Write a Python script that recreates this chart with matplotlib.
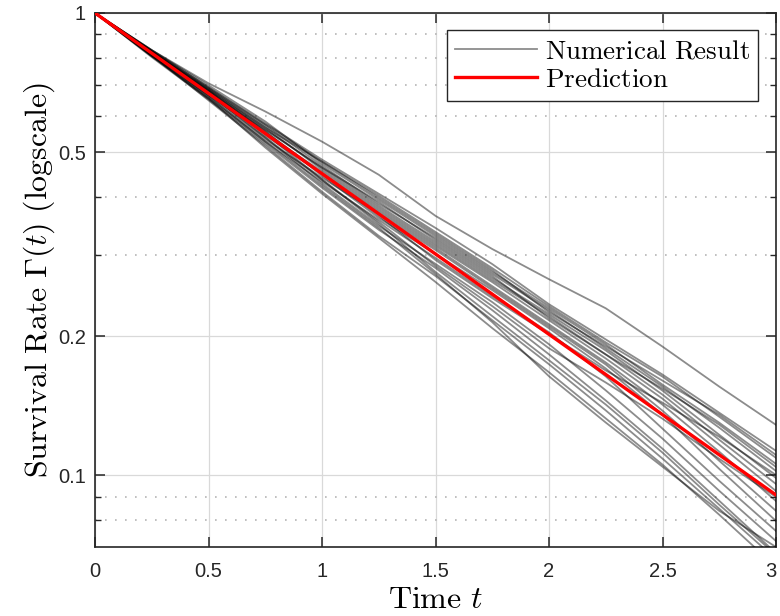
import numpy as np
import matplotlib
matplotlib.use("Agg")
import matplotlib.pyplot as plt
import matplotlib.transforms as mtransforms
from matplotlib.ticker import FixedLocator, NullFormatter, NullLocator

plt.rcParams['mathtext.fontset'] = 'cm'

# time grid at which the numerical curves were read
t_grid = [0, 0.25, 0.5, 0.75, 1.0, 1.25, 1.5, 1.75, 2.0, 2.25, 2.5, 2.75, 3.0]

# Numerical results (survival rate)
run_outlier = [1, 0.8311, 0.7046, 0.6124, 0.5270, 0.4469, 0.3641, 0.3087, 0.2656, 0.2298, 0.1899, 0.1556, 0.1286]
run_01 = [1, 0.8269, 0.6907, 0.5768, 0.4818, 0.4065, 0.3429, 0.2864, 0.2345, 0.1968, 0.1652, 0.1366, 0.1130]
run_02 = [1, 0.8106, 0.6770, 0.5655, 0.4770, 0.4024, 0.3361, 0.2807, 0.2321, 0.1939, 0.1635, 0.1339, 0.1091]
run_03 = [1, 0.8311, 0.6976, 0.5827, 0.4723, 0.3945, 0.3295, 0.2752, 0.2298, 0.1920, 0.1571, 0.1300, 0.1059]
run_04 = [1, 0.8228, 0.6838, 0.5711, 0.4676, 0.3867, 0.3262, 0.2725, 0.2276, 0.1882, 0.1556, 0.1268, 0.1022]
run_05 = [1, 0.8146, 0.6703, 0.5598, 0.4630, 0.3829, 0.3198, 0.2671, 0.2231, 0.1863, 0.1525, 0.1224, 0.0987]
run_06 = [1, 0.8269, 0.6872, 0.5655, 0.4583, 0.3791, 0.3166, 0.2644, 0.2209, 0.1826, 0.1495, 0.1194, 0.0958]
run_07 = [1, 0.8066, 0.6637, 0.5488, 0.4538, 0.3753, 0.3135, 0.2618, 0.2165, 0.1790, 0.1465, 0.1165, 0.0925]
run_08 = [1, 0.8228, 0.6770, 0.5434, 0.4493, 0.3716, 0.3104, 0.2566, 0.2122, 0.1755, 0.1422, 0.1125, 0.0880]
run_09 = [1, 0.8106, 0.6571, 0.5326, 0.4404, 0.3679, 0.3073, 0.2541, 0.2101, 0.1737, 0.1380, 0.1075, 0.0838]
run_10 = [1, 0.8187, 0.6804, 0.5543, 0.4449, 0.3607, 0.3012, 0.2516, 0.2080, 0.1703, 0.1353, 0.1033, 0.0797]
run_11 = [1, 0.8066, 0.6538, 0.5273, 0.4317, 0.3570, 0.2953, 0.2442, 0.2039, 0.1637, 0.1262, 0.0973, 0.0758]
run_12 = [1, 0.8146, 0.6637, 0.5380, 0.4275, 0.3466, 0.2866, 0.2370, 0.1921, 0.1527, 0.1201, 0.0926, 0.0721]
run_13 = [1, 0.8026, 0.6505, 0.5221, 0.4190, 0.3398, 0.2809, 0.2277, 0.1827, 0.1452, 0.1142, 0.0881, 0.0679]
run_14 = [1, 0.8106, 0.6473, 0.5170, 0.4108, 0.3297, 0.2699, 0.2166, 0.1739, 0.1382, 0.1087, 0.0847, 0.0659]
run_15 = [1, 0.8066, 0.6538, 0.5118, 0.4067, 0.3264, 0.2620, 0.2082, 0.1671, 0.1328, 0.1055, 0.0822, 0.0634]
run_16 = [1, 0.8269, 0.6703, 0.5380, 0.4360, 0.3500, 0.2754, 0.2210, 0.1774, 0.1423, 0.1120, 0.0864, 0.0673]
run_17 = [1, 0.8187, 0.6604, 0.5273, 0.4232, 0.3431, 0.2726, 0.2145, 0.1638, 0.1301, 0.1044, 0.0838, 0.0700]
run_18 = [1, 0.8311, 0.6907, 0.5740, 0.4770, 0.3984, 0.3328, 0.2779, 0.2253, 0.1901, 0.1603, 0.1353, 0.1107]
run_19 = [1, 0.8228, 0.6838, 0.5598, 0.4630, 0.3906, 0.3230, 0.2698, 0.2187, 0.1826, 0.1540, 0.1287, 0.1043]
run_20 = [1, 0.8146, 0.6737, 0.5543, 0.4493, 0.3643, 0.2923, 0.2417, 0.2019, 0.1686, 0.1436, 0.1212, 0.1002]
run_21 = [1, 0.8269, 0.6804, 0.5488, 0.4360, 0.3535, 0.2837, 0.2323, 0.1883, 0.1588, 0.1326, 0.1086, 0.0898]

runs = [run_outlier, run_01, run_02, run_03, run_04, run_05, run_06, run_07,
        run_08, run_09, run_10, run_11, run_12, run_13, run_14, run_15,
        run_16, run_17, run_18, run_19, run_20, run_21]

# Prediction (straight line on the log axis)
pred_t = [0, 3]
pred_val = [1.0, 0.0907]

x_ticks = [0, 0.5, 1, 1.5, 2, 2.5, 3]
x_tick_labels = ["0", "0.5", "1", "1.5", "2", "2.5", "3"]
y_ticks = [0.1, 0.2, 0.5, 1]
y_tick_labels = ["0.1", "0.2", "0.5", "1"]
y_minor = [0.08, 0.09, 0.3, 0.4, 0.6, 0.7, 0.8, 0.9]

fig = plt.figure(figsize=(7.8, 6.16), dpi=100)
ax = fig.add_axes([95/780, 69/616, 681/780, 534/616])

for i, r in enumerate(runs):
    ax.plot(t_grid, r, color='k', alpha=0.45, lw=1.3,
            label='Numerical Result' if i == 0 else None, zorder=3)
ax.plot(pred_t, pred_val, color='#ff0000', lw=2.4, label='Prediction', zorder=4)

ax.set_yscale('log')
ax.set_xlim(0, 3)
ax.set_ylim(0.07, 1)

ax.xaxis.set_major_locator(FixedLocator(x_ticks))
ax.set_xticklabels(x_tick_labels)
ax.xaxis.set_minor_locator(NullLocator())
ax.yaxis.set_major_locator(FixedLocator(y_ticks))
ax.set_yticklabels(y_tick_labels)
ax.yaxis.set_minor_locator(FixedLocator(y_minor))
ax.yaxis.set_minor_formatter(NullFormatter())

ax.grid(True, which='major', color='#d9d9d9', lw=0.9, ls='-', zorder=0)
ax.grid(True, which='minor', axis='y', color='#b5b5b5', lw=1.2, ls=(0, (1, 5)), zorder=0)
ax.set_axisbelow(True)

ax.tick_params(which='both', direction='in', top=True, right=True, colors='#262626')
ax.tick_params(which='major', length=7, width=1.1)
ax.tick_params(axis='x', which='major', pad=11)
ax.tick_params(axis='y', which='major', pad=6.5)
ax.tick_params(which='minor', length=4, width=1.0)
for s in ax.spines.values():
    s.set_color('#262626')
    s.set_linewidth(1.2)

for tick in ax.get_xticklabels() + ax.get_yticklabels():
    tick.set_fontfamily('Liberation Sans')
    tick.set_fontsize(14.5)
    tick.set_color('#262626')

# keep the last x tick label inside the figure (after tick_params, which resets transforms)
last = ax.get_xticklabels()[-1]
last.set_transform(last.get_transform() + mtransforms.ScaledTranslation(-5/100, 0, fig.dpi_scale_trans))

ax.set_xlabel(r'$\mathrm{Time}\ t$', fontsize=23, labelpad=2)
ax.set_ylabel(r'$\mathrm{Survival\ Rate}\ \Gamma(t)\ \mathrm{(logscale)}$', fontsize=23, labelpad=1)

leg = ax.legend(loc='upper right', bbox_to_anchor=((758-95)/681, (547-30)/534),
                borderaxespad=0, fancybox=False, framealpha=1, edgecolor='#262626',
                prop={'size': 19.5}, handlelength=3.0,
                handletextpad=0.3, borderpad=0.3, labelspacing=0.1)
leg.get_frame().set_linewidth(1.0)
leg.set_zorder(10)
leg.get_texts()[0].set_text(r'$\mathrm{Numerical\ Result}$')
leg.get_texts()[1].set_text(r'$\mathrm{Prediction}$')

fig.savefig('out.png', dpi=100)
